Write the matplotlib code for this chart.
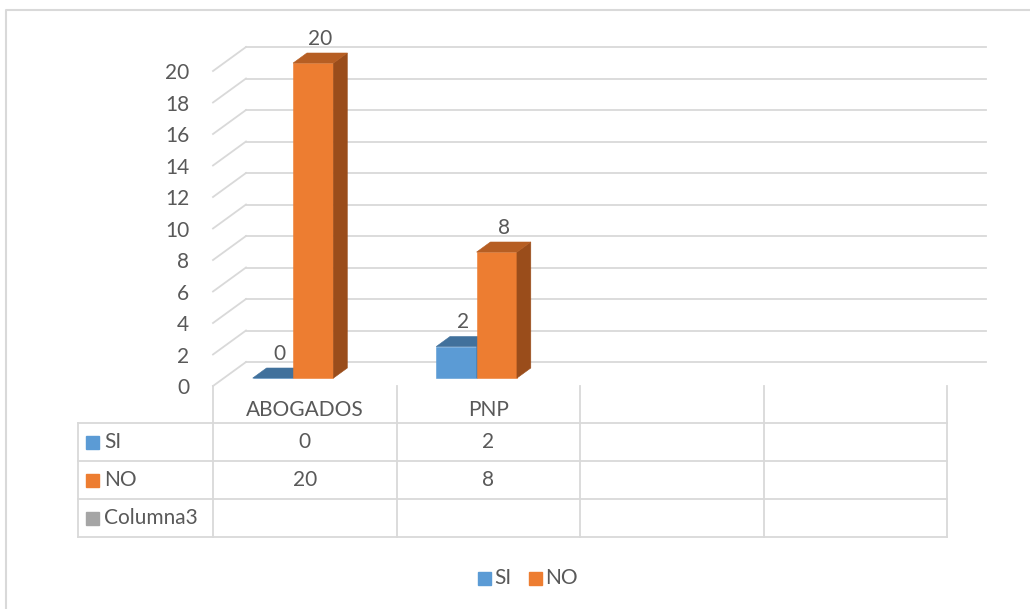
import matplotlib
matplotlib.use('Agg')
import matplotlib.pyplot as plt
import matplotlib.transforms as mtransforms
from matplotlib.patches import Polygon, Rectangle
from matplotlib.lines import Line2D

# data
categories = ['ABOGADOS', 'PNP', '', '']
series_names = ['SI', 'NO', 'Columna3']
si_values = [0, 2, None, None]
no_values = [20, 8, None, None]
col3_values = [None, None, None, None]
y_ticks = list(range(0, 21, 2))

SI_COLOR = '#5B9BD5'
SI_TOP = '#41719C'
SI_SIDE = '#4A7EB1'
NO_COLOR = '#ED7D31'
NO_TOP = '#B65E23'
NO_SIDE = '#9A4D1B'
COL3_COLOR = '#A5A5A5'
GRID_COLOR = '#D9D9D9'
TEXT_COLOR = '#595959'
FONT = 'Lato'
FS = 15

W, H = 1030, 609
plt.rcParams['font.family'] = FONT
fig = plt.figure(figsize=(W / 100, H / 100), dpi=100)


def fx(px):
  return px / W


def fy(py):
  return 1 - py / H


# front plane of the 3d chart
ax = fig.add_axes([fx(213), fy(386), fx(947) - fx(213), (386 - 71) / H])
ax.set_xlim(0, len(categories))
ax.set_ylim(0, 20)
ax.axis('off')

# depth offsets (data units for one full depth)
DX = 33 / 183.5
DY = 24 / 15.75
X_END = 4.03


def at(x, y, d):
  return (x + DX * d, y + DY * d)


# walls
for v in y_ticks:
  ax.add_line(Line2D(*zip(at(0, v, 0), at(0, v, 1)), color=GRID_COLOR, lw=1.3, clip_on=False, zorder=1))
  ax.add_line(Line2D(*zip(at(0, v, 1), at(X_END, v, 1)), color=GRID_COLOR, lw=1.3, clip_on=False, zorder=1))
  ax.text(-0.13, v - 0.15, str(v), ha='right', va='center', fontsize=FS, color=TEXT_COLOR)

# bars
D0, D1 = 0.33, 0.75
BAR_W = 0.22


def bar3d(x0, x1, v, front, top, side):
  faces = [
    ([at(x0, 0, D0), at(x1, 0, D0), at(x1, v, D0), at(x0, v, D0)], front),
    ([at(x1, 0, D0), at(x1, 0, D1), at(x1, v, D1), at(x1, v, D0)], side),
    ([at(x0, v, D0), at(x1, v, D0), at(x1, v, D1), at(x0, v, D1)], top),
  ]
  for pts, c in faces:
    ax.add_patch(Polygon(pts, closed=True, facecolor=c, edgecolor=c, lw=0.4, clip_on=False, zorder=3))
  cx, cy = at((x0 + x1) / 2, v, (D0 + D1) / 2)
  ly = at(0, v, D1)[1] + 0.9
  ax.text(cx, ly, str(v), ha='center', va='center', fontsize=FS, color=TEXT_COLOR, zorder=4)


for i, cat in enumerate(categories):
  left = i + 0.377 - BAR_W
  if si_values[i] is not None:
    bar3d(left, left + BAR_W, si_values[i], SI_COLOR, SI_TOP, SI_SIDE)
  if no_values[i] is not None:
    bar3d(left + BAR_W, left + 2 * BAR_W, no_values[i], NO_COLOR, NO_TOP, NO_SIDE)

# data table
bt = mtransforms.blended_transform_factory(ax.transData, fig.transFigure)
tab_left = -135 / 183.5
row_lines = [423, 461, 499, 537]
for py in row_lines:
  ax.add_line(Line2D([tab_left, len(categories)], [fy(py)] * 2, transform=bt, color=GRID_COLOR, lw=1.3, clip_on=False))
for k in range(len(categories) + 1):
  ax.add_line(Line2D([k, k], [fy(386), fy(537)], transform=bt, color=GRID_COLOR, lw=1.3, clip_on=False))
ax.add_line(Line2D([tab_left, tab_left], [fy(423), fy(537)], transform=bt, color=GRID_COLOR, lw=1.3, clip_on=False))

for i, cat in enumerate(categories):
  ax.text(i + 0.5, fy(410), cat, transform=bt, ha='center', va='center', fontsize=FS, color=TEXT_COLOR)

rows = [si_values, no_values, col3_values]
colors = [SI_COLOR, NO_COLOR, COL3_COLOR]
row_centers = [442, 480, 518]
for name, vals, c, py in zip(series_names, rows, colors, row_centers):
  fig.add_artist(Rectangle((fx(86), fy(py + 7)), 13 / W, 13 / H, transform=fig.transFigure, color=c))
  fig.text(fx(104), fy(py), name, ha='left', va='center', fontsize=FS, color=TEXT_COLOR)
  for i, v in enumerate(vals):
    if v is not None:
      ax.text(i + 0.5, fy(py), str(v), transform=bt, ha='center', va='center', fontsize=FS, color=TEXT_COLOR)

# legend
for name, c, px in [('SI', SI_COLOR, 478), ('NO', NO_COLOR, 529)]:
  fig.add_artist(Rectangle((fx(px), fy(585)), 13 / W, 13 / H, transform=fig.transFigure, color=c))
  fig.text(fx(px + 16), fy(578), name, ha='left', va='center', fontsize=FS, color=TEXT_COLOR)

# chart border
fig.add_artist(Line2D([fx(6), fx(6), 1], [0, fy(10), fy(10)], transform=fig.transFigure, color=GRID_COLOR, lw=1.5))

plt.savefig('out.png', dpi=100)
